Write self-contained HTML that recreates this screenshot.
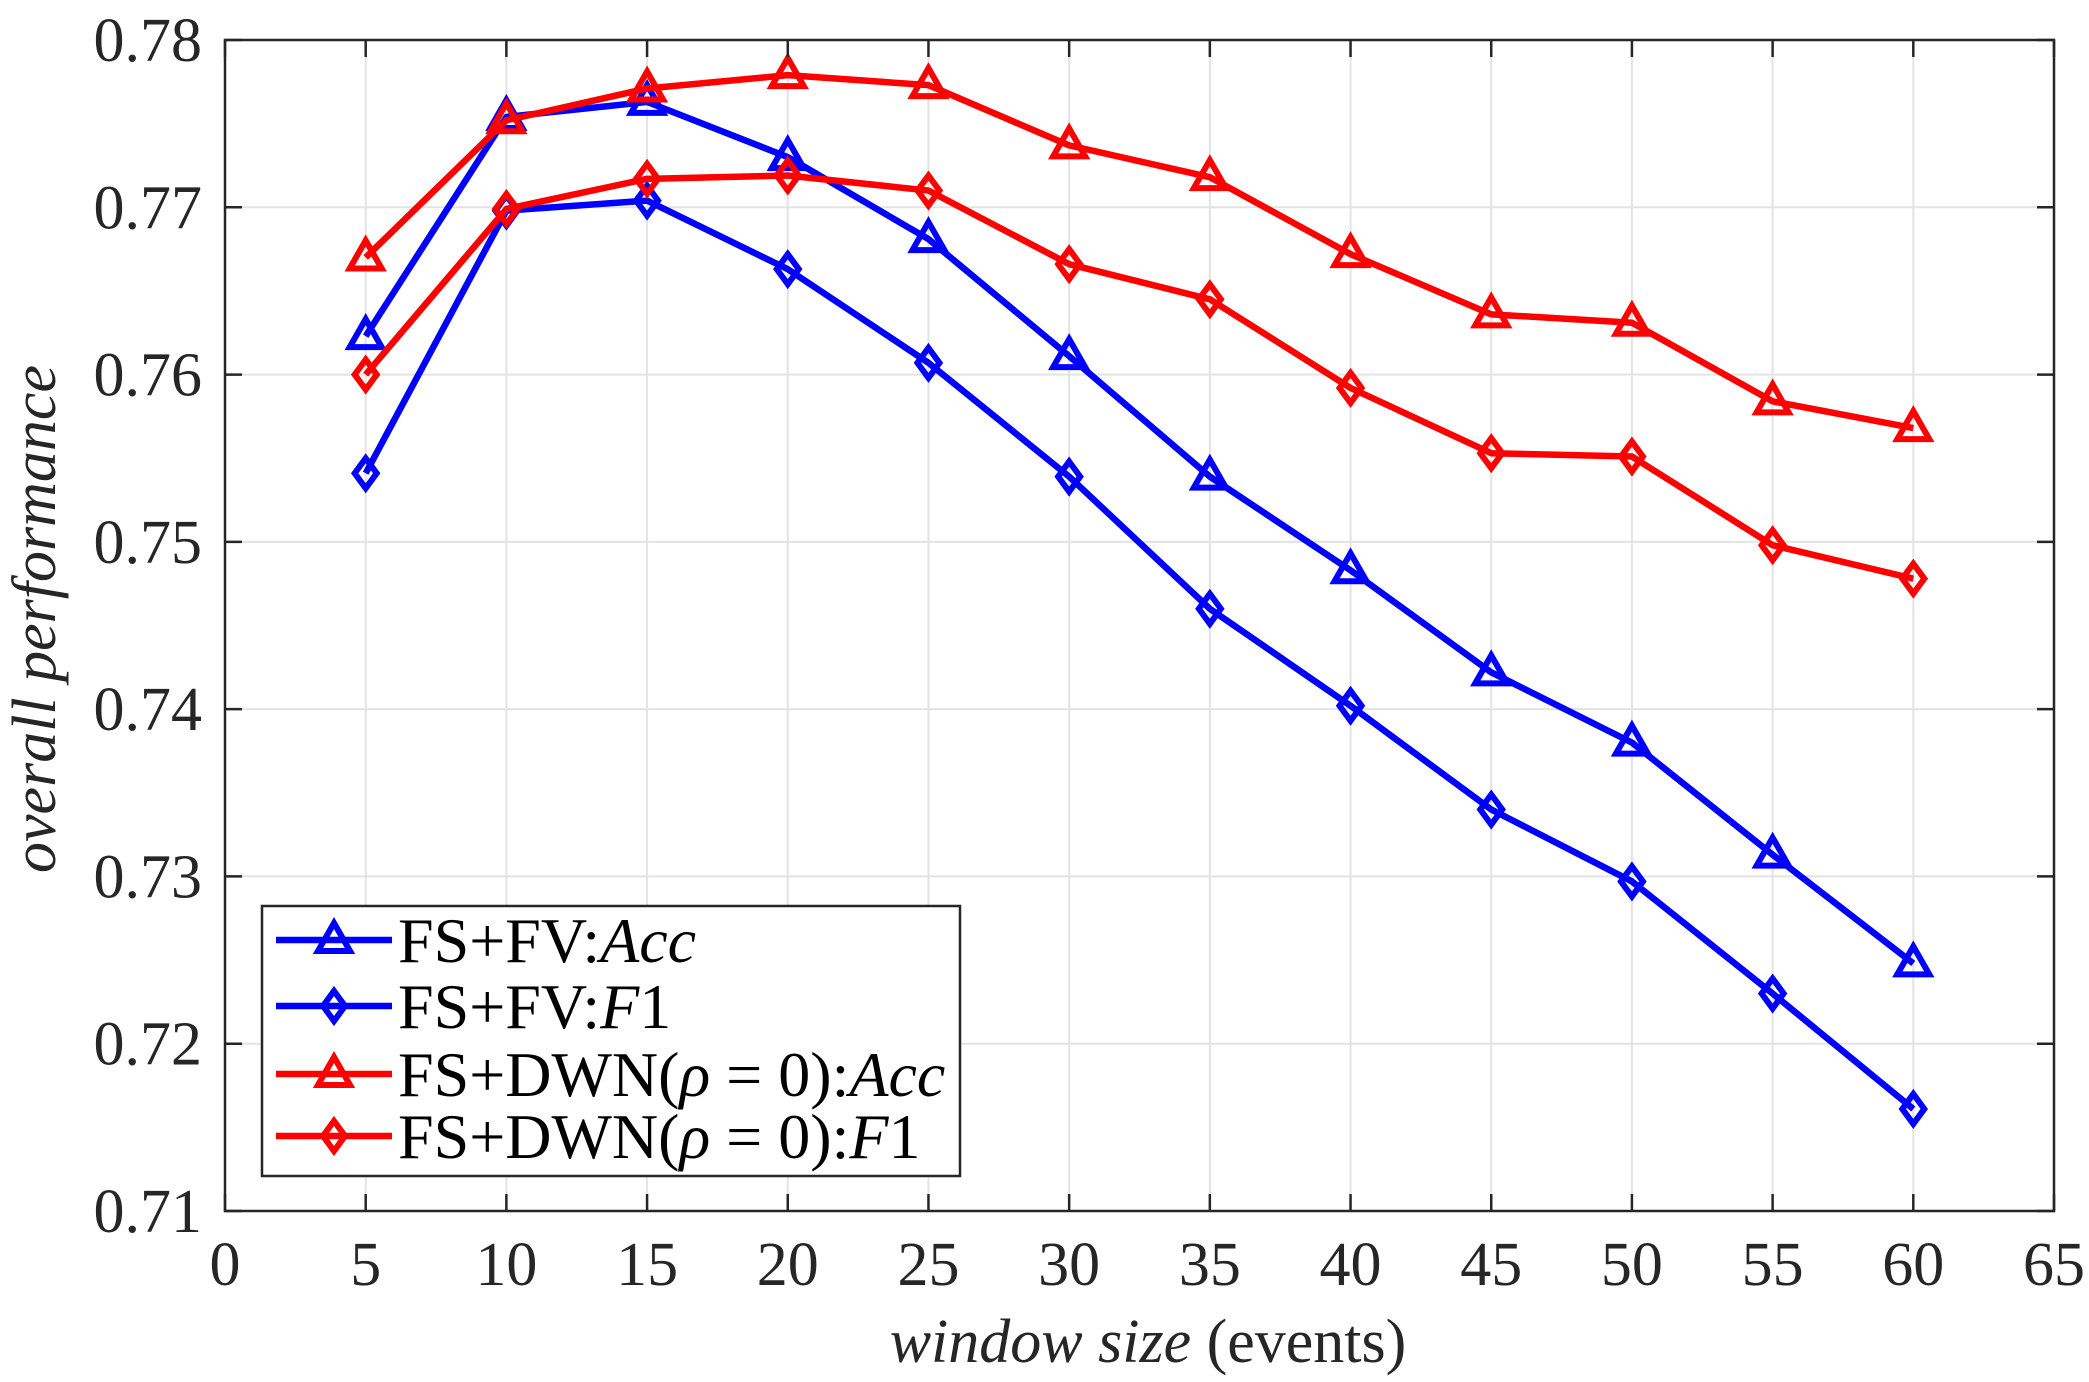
<!DOCTYPE html>
<html><head><meta charset="utf-8"><style>
html,body{margin:0;padding:0;background:#fff;}
svg text{font-family:"Liberation Serif","DejaVu Serif",serif;}
</style></head><body>
<svg id="chart" width="2089" height="1377" viewBox="0 0 2089 1377">
<g id="grid"></g>
<g id="series"></g>
<g id="axes"></g>
<g id="legend"></g>
<text x="55" y="619" font-family="Liberation Serif, serif" font-size="62" font-style="italic" fill="#262626" text-anchor="middle" transform="rotate(-90 55 619)">overall performance</text>
<text x="1148" y="1362" font-family="Liberation Serif, serif" font-size="62" fill="#262626" text-anchor="middle"><tspan font-style="italic">window size</tspan> (events)</text>
</svg>
<script>
const categories=[5,10,15,20,25,30,35,40,45,50,55,60];
const fsfvAcc=[0.7623,0.7754,0.7763,0.7730,0.7681,0.7611,0.7539,0.7483,0.7422,0.7380,0.7313,0.7248];
const fsfvF1=[0.7541,0.7698,0.7704,0.7663,0.7607,0.7539,0.7460,0.7402,0.7340,0.7297,0.7230,0.7161];
const dwnAcc=[0.7670,0.7752,0.7771,0.7779,0.7773,0.7737,0.7718,0.7672,0.7636,0.7631,0.7584,0.7568];
const dwnF1=[0.7600,0.7699,0.7717,0.7719,0.7710,0.7666,0.7645,0.7592,0.7553,0.7551,0.7498,0.7478];
const xTicks=[0,5,10,15,20,25,30,35,40,45,50,55,60,65];
const yTicks=[0.71,0.72,0.73,0.74,0.75,0.76,0.77,0.78];
const yTickLabels=["0.71","0.72","0.73","0.74","0.75","0.76","0.77","0.78"];
const legendLabels=["FS+FV:<tspan font-style='italic'>Acc</tspan>","FS+FV:<tspan font-style='italic'>F</tspan>1","FS+DWN(<tspan font-style='italic'>ρ</tspan> = 0):<tspan font-style='italic'>Acc</tspan>","FS+DWN(<tspan font-style='italic'>ρ</tspan> = 0):<tspan font-style='italic'>F</tspan>1"];

const L=225,R=2054,T=40,B=1211;
const xs=v=>L+(v-0)/65*(R-L);
const ys=v=>B-(v-0.71)/0.07*(B-T);
const NS="http://www.w3.org/2000/svg";
function mk(tag,attrs,parent){const e=document.createElementNS(NS,tag);for(const k in attrs)e.setAttribute(k,attrs[k]);parent.appendChild(e);return e;}
const grid=document.getElementById('grid'),axes=document.getElementById('axes'),ser=document.getElementById('series'),leg=document.getElementById('legend');
mk('rect',{x:L,y:T,width:R-L,height:B-T,fill:'#fff'},grid);
xTicks.forEach((t,i)=>{
  const x=xs(t);
  const g=mk('line',{x1:x,y1:T,x2:x,y2:B,stroke:'#e3e3e3','stroke-width':2},grid);
  
  
  mk('line',{x1:x,y1:B,x2:x,y2:B-17,stroke:'#262626','stroke-width':2.5},axes);
  mk('line',{x1:x,y1:T,x2:x,y2:T+17,stroke:'#262626','stroke-width':2.5},axes);
  const tx=mk('text',{x:x,y:1285,'font-size':62,fill:'#262626','text-anchor':'middle','font-family':'Liberation Serif, serif'},axes);
  tx.textContent=t;
  
  
});
yTicks.forEach((t,i)=>{
  const y=ys(t);
  const g=mk('line',{x1:L,y1:y,x2:R,y2:y,stroke:'#e3e3e3','stroke-width':2},grid);
  
  
  mk('line',{x1:L,y1:y,x2:L+17,y2:y,stroke:'#262626','stroke-width':2.5},axes);
  mk('line',{x1:R,y1:y,x2:R-17,y2:y,stroke:'#262626','stroke-width':2.5},axes);
  const tx=mk('text',{x:202,y:y+21,'font-size':62,fill:'#262626','text-anchor':'end','font-family':'Liberation Serif, serif'},axes);
  tx.textContent=yTickLabels[i];
  
  
});
const frame=mk('rect',{x:L,y:T,width:R-L,height:B-T,fill:'none',stroke:'#262626','stroke-width':2.5},axes);



function marker(parent,x,y,type,color){
  if(type==='tri'){
    return mk('polygon',{points:`${x},${y-17} ${x+16},${y+11} ${x-16},${y+11}`,fill:'none',stroke:color,'stroke-width':6},parent);
  } else {
    return mk('polygon',{points:`${x},${y-15} ${x+11},${y} ${x},${y+15} ${x-11},${y}`,fill:'none',stroke:color,'stroke-width':6},parent);
  }
}
const seriesList=[[fsfvAcc,'#0000ff','tri','fs-fv-acc'],[fsfvF1,'#0000ff','dia','fs-fv-f1'],[dwnAcc,'#ff0000','tri','fs-dwn-acc'],[dwnF1,'#ff0000','dia','fs-dwn-f1']];
seriesList.forEach(([vals,color,type,name])=>{
  const g=mk('g',{},ser);
  
  
  const pts=vals.map((v,i)=>xs(categories[i])+','+ys(v)).join(' ');
  const pl=mk('polyline',{points:pts,fill:'none',stroke:color,'stroke-width':6.5,'stroke-linejoin':'round'},g);
  
  
  vals.forEach((v,i)=>{
    const m=marker(g,xs(categories[i]),ys(v),type,color);
    
    
  });
});
const box=mk('rect',{x:262,y:906,width:698,height:270,fill:'#fff',stroke:'#262626','stroke-width':2.5},leg);


const rowsY=[940,1006,1074,1136];
seriesList.forEach(([vals,color,type,name],i)=>{
  const g=mk('g',{},leg);
  
  
  const y=rowsY[i];
  mk('line',{x1:276,y1:y,x2:392,y2:y,stroke:color,'stroke-width':6.5},g);
  marker(g,334,y,type,color);
  const t=mk('text',{x:398,y:y+22,'font-size':64,fill:'#000','font-family':'Liberation Serif, serif'},g);
  t.innerHTML=legendLabels[i];
});
</script>
</body></html>
